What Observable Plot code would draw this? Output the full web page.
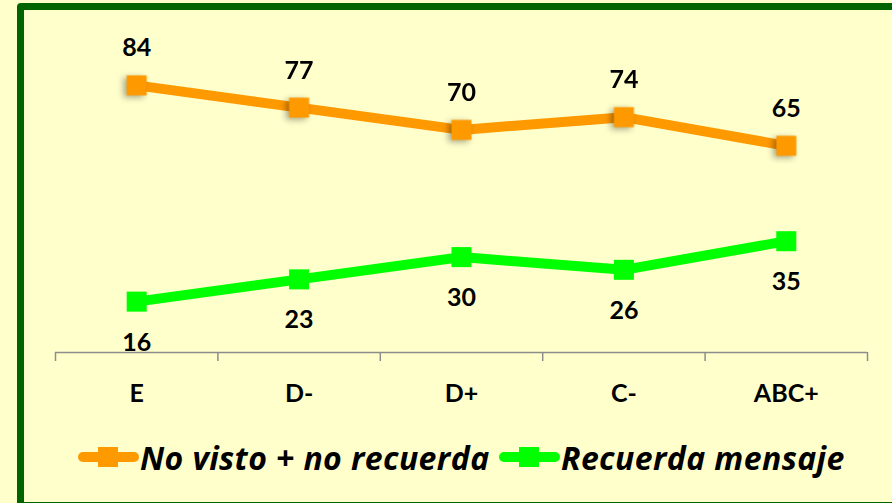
<!DOCTYPE html>
<html>
<head>
<meta charset="utf-8">
<script src="https://cdn.jsdelivr.net/npm/d3@7"></script>
<script src="https://cdn.jsdelivr.net/npm/@observablehq/plot@0.6"></script>
<style>
  html, body { margin: 0; padding: 0; }
  body { width: 892px; height: 503px; overflow: hidden; background: #FFFFCC; position: relative; font-family: Lato, "Open Sans", sans-serif; }
  #frame { position: absolute; left: 17px; top: 3px; width: 900px; height: 506px; box-sizing: border-box; border: 7px solid #006400; border-radius: 4px; background: #FFFFCC; }
  #chart { position: absolute; left: 0; top: 0; }
  #legend { position: absolute; left: 0; top: 437px; width: 892px; height: 40px; }
  .item { position: absolute; top: 0; height: 40px; display: flex; align-items: center; }
  .sw { position: relative; width: 61px; height: 20px; margin-right: 1px; flex: none; }
  .sw .ln { position: absolute; left: 0; top: 5px; width: 61px; height: 10px; border-radius: 5px; }
  .sw .sq { position: absolute; left: 20px; top: 0; width: 20px; height: 20px; }
  .lab { font-family: "Open Sans", Lato, sans-serif; font-weight: bold; font-style: italic; font-size: 32px; color: #000; white-space: nowrap; letter-spacing: 0.4px; }
</style>
</head>
<body>
<div id="frame"></div>
<div id="chart"></div>
<div id="legend"></div>
<script>
const categories = ["E", "D-", "D+", "C-", "ABC+"];
const seriesNames = ["No visto + no recuerda", "Recuerda mensaje"];
const noVisto = [84, 77, 70, 74, 65];
const recuerda = [16, 23, 30, 26, 35];
const colors = ["#FF9900", "#00FF00"];

const rowsA = categories.map((c, i) => ({i, cat: c, v: noVisto[i]}));
const rowsB = categories.map((c, i) => ({i, cat: c, v: recuerda[i]}));
const cats = categories.map((c, i) => ({i, cat: c}));
const bounds = d3.range(categories.length + 1).map(i => i - 0.5);

const font = "Lato, 'Open Sans', sans-serif";

const plot = Plot.plot({
  width: 892,
  height: 420,
  marginTop: 34,
  marginBottom: 68,
  marginLeft: 55,
  marginRight: 25,
  style: {background: "transparent", fontFamily: font},
  x: {type: "linear", domain: [-0.5, categories.length - 0.5], label: null},
  y: {domain: [0, 100], label: null},
  marks: [
    Plot.ruleY([0], {stroke: "#8c8c8c", strokeWidth: 1.5}),
    Plot.axisX({ticks: bounds, tickSize: 9, tickFormat: () => "", stroke: "#8c8c8c", strokeWidth: 1.5, label: null}),
    Plot.axisY({ticks: [], tickSize: 0, label: null}),
    Plot.text(cats, {x: "i", y: () => 0, text: "cat", dy: 41, fontSize: 25, fontWeight: "bold", fill: "#000"}),
    Plot.line(rowsA, {x: "i", y: "v", stroke: colors[0], strokeWidth: 10, curve: "linear"}),
    Plot.dot(rowsA, {x: "i", y: "v", symbol: "square", r: 11.3, fill: colors[0], stroke: "none",
      render: (index, scales, values, dimensions, context, next) => {
        const g = next(index, scales, values, dimensions, context);
        g.setAttribute("style", "filter: drop-shadow(-3px 2px 3px rgba(0,0,0,0.35))");
        return g;
      }}),
    Plot.line(rowsB, {x: "i", y: "v", stroke: colors[1], strokeWidth: 10, curve: "linear"}),
    Plot.dot(rowsB, {x: "i", y: "v", symbol: "square", r: 11.3, fill: colors[1], stroke: "none"}),
    Plot.text(rowsA, {x: "i", y: "v", text: d => String(d.v), dy: -37, fontSize: 25, fontWeight: "bold", fill: "#000"}),
    Plot.text(rowsB, {x: "i", y: "v", text: d => String(d.v), dy: 41, fontSize: 25, fontWeight: "bold", fill: "#000"})
  ]
});
document.getElementById("chart").appendChild(plot);

const legend = document.getElementById("legend");
const lefts = [78, 499];
seriesNames.forEach((name, k) => {
  const item = document.createElement("div");
  item.className = "item";
  item.style.left = lefts[k] + "px";
  item.innerHTML = `<div class="sw"><div class="ln" style="background:${colors[k]}"></div><div class="sq" style="background:${colors[k]}"></div></div><span class="lab">${name}</span>`;
  legend.appendChild(item);
});
</script>
</body>
</html>
